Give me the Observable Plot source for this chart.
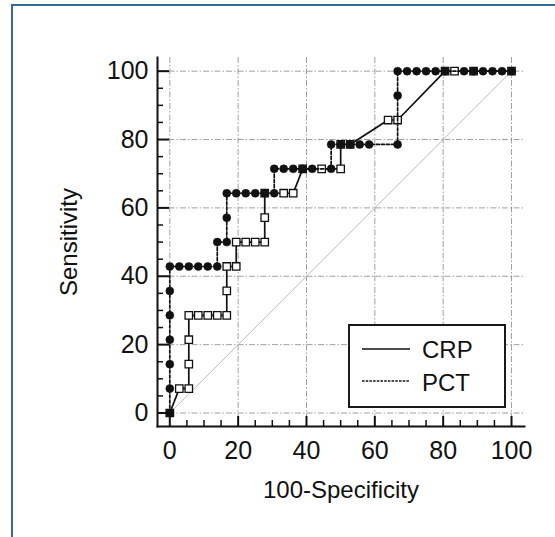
<!DOCTYPE html>
<html><head><meta charset="utf-8">
<script src="https://cdn.jsdelivr.net/npm/d3@7"></script>
<script src="https://cdn.jsdelivr.net/npm/@observablehq/plot@0.6"></script>
<style>
html,body{margin:0;padding:0;background:#fff;overflow:hidden;width:555px;height:537px;}
#wrap{position:relative;width:555px;height:537px;font-family:"Liberation Sans",Arial,sans-serif;overflow:hidden;}
#chart{position:absolute;left:0;top:0;}
#frame{position:absolute;left:11px;top:4px;width:700px;height:700px;border-left:2px solid #3a6898;border-top:2px solid #3a6898;}
#legend{position:absolute;left:347px;top:323px;}
</style></head><body>
<div id="wrap"><div id="chart"></div>
<svg id="legend" width="160" height="86">
  <rect x="2" y="2" width="156" height="82" fill="#fff" stroke="#1a1a1a" stroke-width="2"/>
  <line id="l1" x1="15" x2="63" y1="26" y2="26" stroke="#111" stroke-width="1.5"/>
  <line id="l2" x1="15" x2="63" y1="58" y2="58" stroke="#111" stroke-width="1.5" stroke-dasharray="2.5,1.2"/>
  <text id="t1" x="75" y="35.3" font-size="24" fill="#111" font-family="Liberation Sans, Arial, sans-serif"></text>
  <text id="t2" x="75" y="67.7" font-size="24" fill="#111" font-family="Liberation Sans, Arial, sans-serif"></text>
</svg>
<div id="frame"></div></div>
<script>
// ---- data ----
const seriesNames = ["CRP", "PCT"];
const xLabel = "100-Specificity";
const yLabel = "Sensitivity";
const majorTicks = [0, 20, 40, 60, 80, 100];
const minorTicks = [5, 10, 15, 25, 30, 35, 45, 50, 55, 65, 70, 75, 85, 90, 95];
const diagonalX = [0, 100];
const diagonalY = [0, 100];

const crpX = [0, 2.78, 5.56, 5.56, 5.56, 5.56, 8.33, 11.11, 13.89, 16.67, 16.67, 16.67, 19.44, 19.44, 22.22, 25, 27.78, 27.78, 27.78, 33.33, 36.11, 38.89, 44.44, 50, 50, 52.78, 63.89, 66.67, 80.56, 83.33, 88.89, 100];
const crpY = [0, 7.14, 7.14, 14.29, 21.43, 28.57, 28.57, 28.57, 28.57, 28.57, 35.71, 42.86, 42.86, 50, 50, 50, 50, 57.14, 64.29, 64.29, 64.29, 71.43, 71.43, 71.43, 78.57, 78.57, 85.71, 85.71, 100, 100, 100, 100];

const pctX = [0, 0, 0, 0, 0, 0, 0, 2.78, 5.56, 8.33, 11.11, 13.89, 13.89, 16.67, 16.67, 16.67, 19.44, 22.22, 25, 27.78, 30.56, 30.56, 33.33, 36.11, 38.89, 41.67, 47.22, 47.22, 50, 52.78, 55.56, 58.33, 66.67, 66.67, 66.67, 69.44, 72.22, 75, 77.78, 80.56, 86.11, 88.89, 91.67, 94.44, 97.22, 100];
const pctY = [0, 7.14, 14.29, 21.43, 28.57, 35.71, 42.86, 42.86, 42.86, 42.86, 42.86, 42.86, 50, 50, 57.14, 64.29, 64.29, 64.29, 64.29, 64.29, 64.29, 71.43, 71.43, 71.43, 71.43, 71.43, 71.43, 78.57, 78.57, 78.57, 78.57, 78.57, 78.57, 92.86, 100, 100, 100, 100, 100, 100, 100, 100, 100, 100, 100, 100];

// ---- build ----
const crp = crpX.map((x, i) => ({x, y: crpY[i]}));
const pct = pctX.map((x, i) => ({x, y: pctY[i]}));
const diag = diagonalX.map((x, i) => ({x, y: diagonalY[i]}));

const W = 555, H = 537, ML = 157, MR = 31, MT = 57, MB = 111;
const innerW = W - ML - MR, innerH = H - MT - MB;
const font = "Liberation Sans, Arial, sans-serif";
const ink = "#111";
const gridStyle = {stroke: "#8f8f8f", strokeWidth: 1, strokeDasharray: "6,2,1.5,2", strokeOpacity: 0.85};

const chart = Plot.plot({
  width: W, height: H,
  marginLeft: ML, marginRight: MR, marginTop: MT, marginBottom: MB,
  x: {domain: [-3.6, 103.8]},
  y: {domain: [-3.95, 104]},
  style: {fontFamily: font, fontSize: "25px", color: ink, background: "transparent", overflow: "visible"},
  marks: [
    Plot.ruleX(majorTicks, {x: d => d, ...gridStyle}),
    Plot.ruleY(majorTicks, {y: d => d, ...gridStyle}),
    Plot.line(diag, {x: "x", y: "y", stroke: "#b8b8b8", strokeWidth: 1}),
    Plot.line(crp, {x: "x", y: "y", stroke: ink, strokeWidth: 1.7}),
    Plot.dot(crp, {x: "x", y: "y", symbol: "square", r: 4.2, fill: "#fff", stroke: ink, strokeWidth: 1.3}),
    Plot.line(pct, {x: "x", y: "y", stroke: ink, strokeWidth: 1.7, strokeDasharray: "3,2"}),
    Plot.dot(pct, {x: "x", y: "y", r: 4, fill: ink, stroke: ink, strokeWidth: 0.5}),
    Plot.frame({anchor: "left", stroke: ink, strokeWidth: 2}),
    Plot.frame({anchor: "bottom", stroke: ink, strokeWidth: 2}),
    Plot.tickY(majorTicks, {y: d => d, insetRight: innerW - 12, stroke: ink, strokeWidth: 2}),
    Plot.tickY(minorTicks, {y: d => d, insetRight: innerW - 6, stroke: ink, strokeWidth: 1.5}),
    Plot.tickX(majorTicks, {x: d => d, insetTop: innerH - 10, stroke: ink, strokeWidth: 2}),
    Plot.tickX(minorTicks, {x: d => d, insetTop: innerH - 6, stroke: ink, strokeWidth: 1.5}),
    Plot.axisX(majorTicks, {tickSize: 0, tickPadding: 15, fontSize: 25, label: null, fill: ink}),
    Plot.axisY(majorTicks, {tickSize: 0, tickPadding: 9, fontSize: 25, label: null, fill: ink}),
    Plot.text([xLabel], {text: d => d, frameAnchor: "bottom", textAnchor: "middle", lineAnchor: "middle", dy: 64, fontSize: 24, fill: ink}),
    Plot.text([yLabel], {text: d => d, frameAnchor: "left", textAnchor: "middle", lineAnchor: "middle", dx: -88, rotate: -90, fontSize: 24, fill: ink, style: "letter-spacing:1px"})
  ]
});
document.getElementById("chart").appendChild(chart);
document.getElementById("t1").textContent = seriesNames[0];
document.getElementById("t2").textContent = seriesNames[1];
</script>
</body></html>
